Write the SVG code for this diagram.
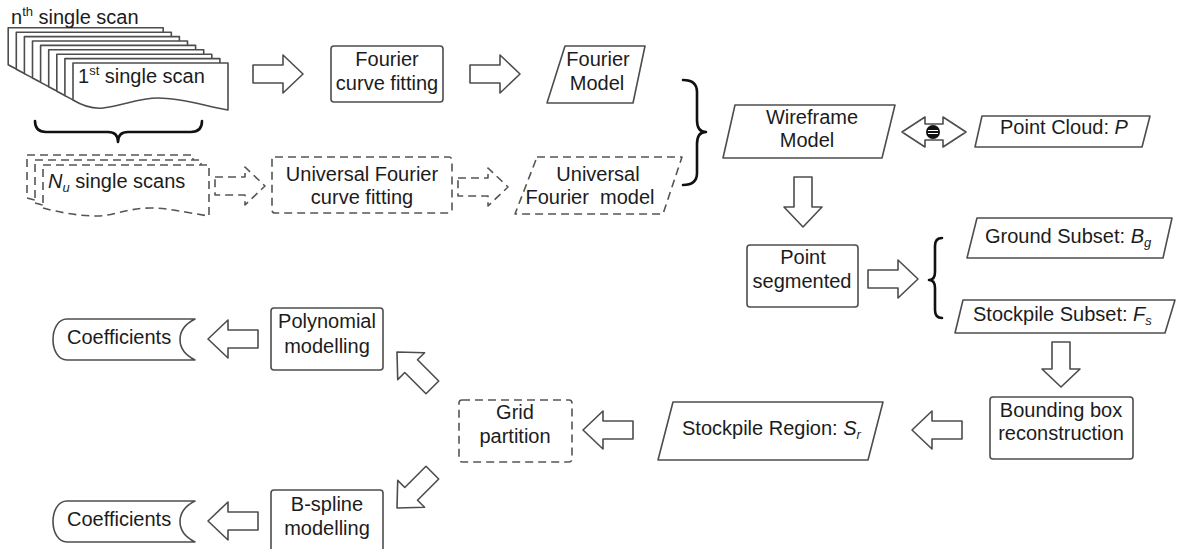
<svg xmlns="http://www.w3.org/2000/svg" width="1185" height="549" viewBox="0 0 1185 549">
  <style>
    text { font-family: "Liberation Sans", Arial, sans-serif; font-size: 20px; fill: #1c1c1c; }
    .c { text-anchor: middle; }
    .box { fill: #fff; stroke: #4d4d4d; stroke-width: 1.6; stroke-linejoin: round; }
    .dash { fill: #fff; stroke: #555; stroke-width: 1.6; stroke-dasharray: 8 5; stroke-linejoin: round; }
    .arr { fill: #fff; stroke: #4d4d4d; stroke-width: 1.6; stroke-linejoin: round; }
    .arrd { fill: #fff; stroke: #555; stroke-width: 1.6; stroke-dasharray: 8 5; stroke-linejoin: round; }
    .brace { fill: none; stroke: #111; stroke-width: 2.6; stroke-linecap: round; stroke-linejoin: round; }
    .sup { font-size: 13px; }
    .sub { font-size: 13px; font-style: italic; }
  </style>
  <defs>
    <!-- hollow block arrow pointing right, tip at origin -->
    <path id="blk" d="M-50,-9 H-20 V-19 L0,0 L-20,19 V9 H-50 Z"/>
    <!-- single scan sheet with a wavy lower edge -->
    <path id="sheet" d="M0,0 H155 V47 C135,44 110,35 85,35 C65,35 50,43 30,45 C20,46 10,43 0,37 Z"/>
    <path id="sheetd" d="M0,0 H166 V51 C140,47 125,43 107,43 C85,43 70,51 54,51 C35,51 15,47 0,43 Z"/>
  </defs>

  <!-- stack of single scans -->
  <g id="scan-stack">
    <use href="#sheet" class="box" x="8.2" y="27.8"/>
    <use href="#sheet" class="box" x="16.3" y="32.2"/>
    <use href="#sheet" class="box" x="24.4" y="36.6"/>
    <use href="#sheet" class="box" x="32.5" y="41"/>
    <use href="#sheet" class="box" x="40.6" y="45.4"/>
    <use href="#sheet" class="box" x="48.7" y="49.8"/>
    <use href="#sheet" class="box" x="56.8" y="54.2"/>
    <use href="#sheet" class="box" x="64.9" y="58.6"/>
    <use href="#sheet" class="box" x="73" y="63"/>
    <text x="11" y="24">n<tspan class="sup" dy="-8">th</tspan><tspan dy="8"> single scan</tspan></text>
    <text x="78" y="83">1<tspan class="sup" dy="-8">st</tspan><tspan dy="8"> single scan</tspan></text>
    <path class="brace" d="M35,121 Q35,132 46,132 L108,132 Q118,132 118,142 Q118,132 128,132 L191,132 Q202,132 202,121"/>
  </g>

  <g id="universal-scans">
    <use href="#sheetd" class="dash" x="27" y="155"/>
    <use href="#sheetd" class="dash" x="35" y="160"/>
    <use href="#sheetd" class="dash" x="43" y="165"/>
    <text x="48" y="188"><tspan font-style="italic">N</tspan><tspan class="sub" dy="4">u</tspan><tspan dy="-4"> single scans</tspan></text>
  </g>

  <g id="fourier-fit">
    <rect class="box" x="331" y="46" width="112" height="56" rx="3"/>
    <text class="c" x="387" y="66">Fourier</text>
    <text class="c" x="387" y="90">curve fitting</text>
  </g>

  <g id="fourier-model">
    <polygon class="box" points="565,46 645,46 633,103 547,103"/>
    <text class="c" x="598" y="66">Fourier</text>
    <text class="c" x="597" y="90">Model</text>
  </g>

  <g id="universal-fit">
    <rect class="dash" x="272" y="157" width="180" height="56" rx="3"/>
    <text class="c" x="362" y="181">Universal Fourier</text>
    <text class="c" x="362" y="204">curve fitting</text>
  </g>

  <g id="universal-model">
    <polygon class="dash" points="537,157 682,157 663,214 515,214"/>
    <text class="c" x="598" y="181">Universal</text>
    <text class="c" x="590" y="204" xml:space="preserve">Fourier  model</text>
  </g>

  <g id="wireframe-model">
    <path class="brace" d="M683,80 Q697,80 697,92 L697,120 Q697,132 706,132 Q697,132 697,144 L697,173 Q697,185 683,185"/>
    <polygon class="box" points="735,105 895,105 882,158 723,158"/>
    <text class="c" x="812" y="124">Wireframe</text>
    <text class="c" x="807" y="147">Model</text>
  </g>

  <g id="point-cloud">
    <polygon class="box" points="982,116 1150,116 1142,147 975,147"/>
    <text x="1000" y="134">Point Cloud: <tspan font-style="italic">P</tspan></text>
  </g>

  <g id="point-segmented">
    <rect class="box" x="747" y="245" width="111" height="62" rx="3"/>
    <text class="c" x="803" y="264">Point</text>
    <text class="c" x="802" y="288">segmented</text>
    <path class="brace" d="M942,238 Q935,238 935,246 L935,272 Q935,280 929,280 Q935,280 935,288 L935,310 Q935,318 942,318"/>
  </g>

  <g id="ground-subset">
    <polygon class="box" points="977,218 1172,218 1163,258 967,258"/>
    <text x="985" y="243">Ground Subset: <tspan font-style="italic">B</tspan><tspan class="sub" dy="4">g</tspan></text>
  </g>

  <g id="stockpile-subset">
    <polygon class="box" points="963,300 1175,300 1165,333 955,333"/>
    <text x="973" y="321">Stockpile Subset: <tspan font-style="italic">F</tspan><tspan class="sub" dy="4">s</tspan></text>
  </g>

  <g id="bounding-box">
    <rect class="box" x="990" y="397" width="143" height="62" rx="3"/>
    <text class="c" x="1061" y="417">Bounding box</text>
    <text class="c" x="1061" y="440">reconstruction</text>
  </g>

  <g id="stockpile-region">
    <polygon class="box" points="673,402 883,402 868,460 658,460"/>
    <text x="682" y="435">Stockpile Region: <tspan font-style="italic">S</tspan><tspan class="sub" dy="4">r</tspan></text>
  </g>

  <g id="grid-partition">
    <rect class="dash" x="459" y="400" width="113" height="62" rx="3"/>
    <text class="c" x="515" y="419">Grid</text>
    <text class="c" x="515" y="443">partition</text>
  </g>

  <g id="polynomial">
    <rect class="box" x="271" y="308" width="112" height="62" rx="3"/>
    <text class="c" x="327" y="328">Polynomial</text>
    <text class="c" x="327" y="353">modelling</text>
  </g>

  <g id="bspline">
    <rect class="box" x="271" y="490" width="112" height="62" rx="3"/>
    <text class="c" x="327" y="511">B-spline</text>
    <text class="c" x="327" y="535">modelling</text>
  </g>

  <g id="coefficients-poly">
    <path class="box" d="M67,319 H195 C183,325 180,333 180,339.5 C180,346 183,354 195,360 H67 C58,360 53,350 53,339.5 C53,329 58,319 67,319 Z"/>
    <text x="67" y="344">Coefficients</text>
  </g>

  <g id="coefficients-bspline">
    <path class="box" d="M67,501 H195 C183,507 180,515 180,521.5 C180,528 183,536 195,542 H67 C58,542 53,532 53,521.5 C53,511 58,501 67,501 Z"/>
    <text x="67" y="526">Coefficients</text>
  </g>

  <!-- block-arrow connectors -->
  <g id="connectors">
    <use href="#blk" class="arr" transform="translate(303,74)"/>
    <use href="#blk" class="arr" transform="translate(520,74)"/>
    <use href="#blk" class="arrd" transform="translate(265,186)"/>
    <use href="#blk" class="arrd" transform="translate(508,187)"/>
    <use href="#blk" class="arr" transform="translate(803,227) rotate(90)"/>
    <use href="#blk" class="arr" transform="translate(918,279)"/>
    <use href="#blk" class="arr" transform="translate(1061,387) rotate(90) scale(0.9,1)"/>
    <use href="#blk" class="arr" transform="translate(912,430) rotate(180)"/>
    <use href="#blk" class="arr" transform="translate(583,430) rotate(180)"/>
    <use href="#blk" class="arr" transform="translate(397,352) rotate(-135)"/>
    <use href="#blk" class="arr" transform="translate(397,508) rotate(135)"/>
    <use href="#blk" class="arr" transform="translate(208,339) rotate(180)"/>
    <use href="#blk" class="arr" transform="translate(208,521) rotate(180)"/>
    <!-- two-way link between wireframe model and point cloud -->
    <path class="arr" d="M902,132 L925,117 V124 H943 V117 L966,132 L943,147 V140 H925 V147 Z"/>
    <circle cx="933" cy="132" r="7" fill="#111"/>
    <path d="M928,130.5 H938 M928,133.5 H938" stroke="#fff" stroke-width="1.2"/>
  </g>
</svg>
